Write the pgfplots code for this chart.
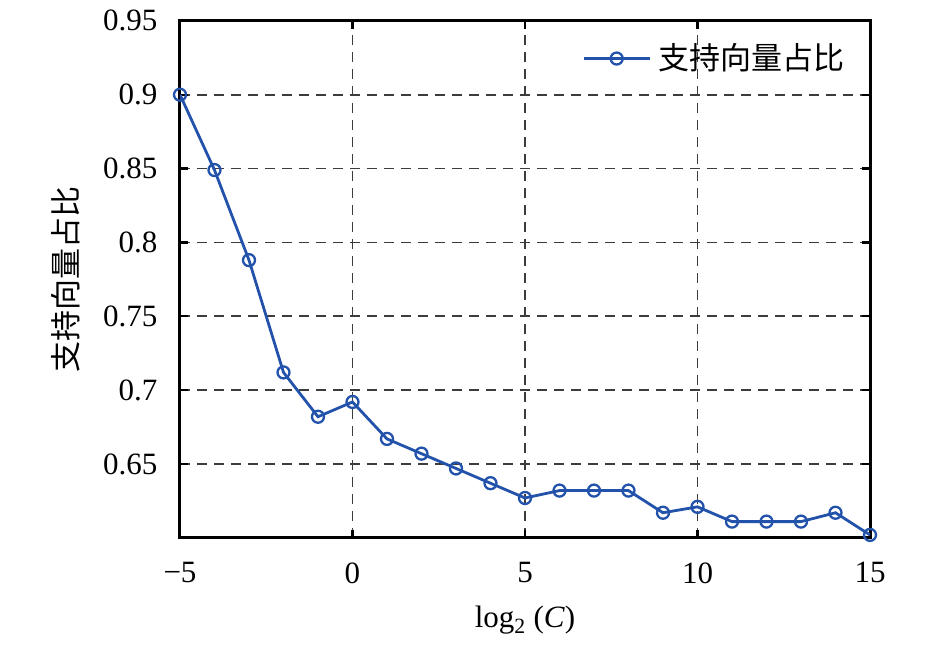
\documentclass[border=0pt]{standalone}
\usepackage{fontspec}
\setmainfont{Liberation Serif}
\newfontfamily\cjk{Noto Sans CJK SC}
\usepackage{pgfplots}
\pgfplotsset{compat=1.18}
\definecolor{lineblue}{RGB}{35,82,170}
\definecolor{gridgray}{RGB}{60,60,60}
\begin{document}
\fontsize{31pt}{37pt}\selectfont
\begin{tikzpicture}
\begin{axis}[
  scale only axis,
  width=690pt, height=517pt,
  xmin=-5, xmax=15, ymin=0.6, ymax=0.95,
  xtick={-5,0,5,10,15},
  xticklabels={−5,0,5,10,15},
  ytick={0.65,0.7,0.75,0.8,0.85,0.9,0.95},
  yticklabels={0.65,0.7,0.75,0.8,0.85,0.9,0.95},
  tick align=inside,
  major tick length=8pt,
  tick style={black, line width=2.4pt},
  axis line style={black, line width=3pt},
  grid=major,
  major grid style={gridgray, line width=1.7pt, dash pattern=on 10pt off 7pt},
  /pgf/number format/assume math mode=true,
  tick label style={font=\fontsize{31pt}{37pt}\selectfont},
  xticklabel style={yshift=-14pt},
  yticklabel style={xshift=-12pt},
  xlabel={log\textsubscript{2} (\textit{C})},
  ylabel={\cjk 支持向量占比},
  label style={font=\fontsize{31pt}{37pt}\selectfont},
  xlabel style={yshift=-2pt},
  ylabel style={yshift=2pt},
  legend style={at={(0.97,0.965)}, anchor=north east, draw=none, fill=none,
    font=\fontsize{31pt}{37pt}\selectfont\cjk, legend cell align=left},
  legend image code/.code={
    \draw[mark repeat=2, mark phase=2] plot coordinates {(0pt,0pt) (33pt,0pt) (66pt,0pt)};
  },
  legend style={/tikz/every even column/.append style={column sep=0pt}},
]
\addplot[color=lineblue, line width=2.8pt, mark=o, mark size=6pt, mark options={line width=2.3pt}]
coordinates {
(-5,0.900) (-4,0.849) (-3,0.788) (-2,0.712) (-1,0.682) (0,0.692)
(1,0.667) (2,0.657) (3,0.647) (4,0.637) (5,0.627) (6,0.632)
(7,0.632) (8,0.632) (9,0.617) (10,0.621) (11,0.611) (12,0.611)
(13,0.611) (14,0.617) (15,0.602)
};
\addlegendentry{\hspace{5pt}支持向量占比}
\end{axis}
\path[use as bounding box] ([xshift=-180pt,yshift=-111pt]current axis.south west) rectangle ([xshift=76pt,yshift=18pt]current axis.north east);
\end{tikzpicture}
\end{document}
